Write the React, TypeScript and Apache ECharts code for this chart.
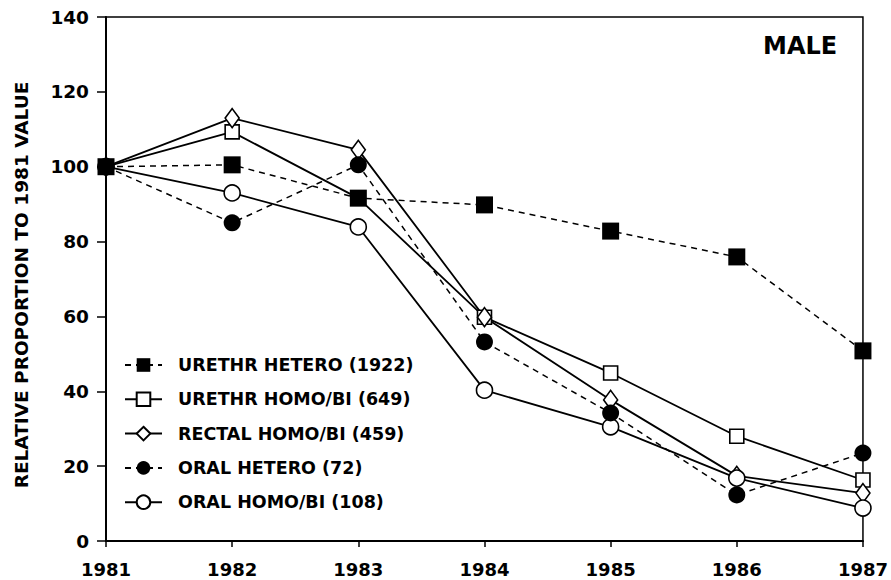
import React, { useEffect, useRef } from "react";
import * as echarts from "echarts";

const years = ["1981", "1982", "1983", "1984", "1985", "1986", "1987"];
const urethrHetero = [100, 100.5, 91.6, 89.8, 82.8, 75.9, 50.8];
const urethrHomo = [100, 109.3, 91.6, 59.8, 44.9, 28, 16.3];
const rectalHomo = [100, 113, 104.5, 59.8, 37.7, 17.4, 12.8];
const oralHetero = [100, 85, 100.5, 53.2, 34.2, 12.3, 23.5];
const oralHomo = [100, 93, 83.9, 40.3, 30.5, 16.8, 8.8];
const seriesNames = [
  "URETHR HETERO (1922)",
  "URETHR HOMO/BI (649)",
  "RECTAL HOMO/BI (459)",
  "ORAL HETERO (72)",
  "ORAL HOMO/BI (108)",
];
const yTicks = [0, 20, 40, 60, 80, 100, 120, 140];
const yTitle = "RELATIVE PROPORTION TO 1981 VALUE";
const panelLabel = "MALE";

const FONT = "DejaVu Sans";

export default function App() {
  const ref = useRef<HTMLDivElement>(null);
  useEffect(() => {
    if (!ref.current) return;
    const chart = echarts.init(ref.current, null, { renderer: "svg" });
    const mk = (
      name: string,
      data: number[],
      symbol: string,
      size: number | number[],
      filled: boolean,
      dashed: boolean,
      z: number
    ) => ({
      name,
      type: "line",
      data,
      symbol,
      symbolSize: size,
      showAllSymbol: true,
      z,
      lineStyle: {
        color: "#000",
        width: dashed ? 1.5 : 1.8,
        type: dashed ? [6, 5] : "solid",
      },
      itemStyle: {
        color: filled ? "#000" : "#fff",
        borderColor: "#000",
        borderWidth: filled ? 0 : 1.6,
      },
      emphasis: { disabled: true },
    });
    const diamond = "path://M0,-10 L7,0 L0,10 L-7,0 Z";
    chart.setOption({
      animation: false,
      backgroundColor: "#fff",
      grid: {
        left: 106,
        right: 27,
        top: 17,
        bottom: 39,
        show: true,
        borderColor: "#000",
        borderWidth: 1.5,
        backgroundColor: "transparent",
      },
      legend: {
        orient: "vertical",
        left: 119,
        top: 351,
        itemWidth: 37,
        itemHeight: 17,
        itemGap: 16.3,
        data: seriesNames,
        textStyle: {
          fontFamily: FONT,
          fontWeight: "bold",
          fontSize: 17.5,
          color: "#000",
          padding: [0, 0, 0, 11],
        },
        selectedMode: false,
      },
      graphic: [
        {
          type: "text",
          left: 763,
          top: 34,
          style: {
            text: panelLabel,
            fontFamily: FONT,
            fontWeight: "bold",
            fontSize: 24,
            fill: "#000",
          },
        },
        {
          type: "text",
          x: 21,
          y: 285,
          rotation: Math.PI / 2,
          style: {
            text: yTitle,
            fontFamily: FONT,
            fontWeight: "bold",
            fontSize: 18.5,
            fill: "#000",
            align: "center",
            verticalAlign: "middle",
          },
        },
      ],
      xAxis: {
        type: "category",
        data: years,
        boundaryGap: false,
        axisLine: { lineStyle: { color: "#000", width: 2 } },
        axisTick: { show: true, length: 6, lineStyle: { color: "#000", width: 1.5 } },
        axisLabel: {
          fontFamily: FONT,
          fontWeight: "bold",
          fontSize: 18,
          color: "#000",
          margin: 19,
        },
        splitLine: { show: false },
      },
      yAxis: {
        type: "value",
        min: yTicks[0],
        max: yTicks[yTicks.length - 1],
        interval: 20,
        axisLine: { show: true, lineStyle: { color: "#000", width: 2 } },
        axisTick: { show: true, length: 9, lineStyle: { color: "#000", width: 1.5 } },
        axisLabel: {
          fontFamily: FONT,
          fontWeight: "bold",
          fontSize: 18.5,
          color: "#000",
          margin: 17,
        },
        splitLine: { show: false },
      },
      series: [
        mk(seriesNames[0], urethrHetero, "rect", 17, true, true, 5),
        mk(seriesNames[1], urethrHomo, "rect", 14, false, false, 2),
        mk(seriesNames[2], rectalHomo, diamond, [14, 19], false, false, 2),
        mk(seriesNames[3], oralHetero, "circle", 17, true, true, 4),
        mk(seriesNames[4], oralHomo, "circle", 16, false, false, 3),
      ],
    });
    return () => chart.dispose();
  }, []);
  return (
    <div
      ref={ref}
      style={{ position: "fixed", left: 0, top: 0, width: 891, height: 580, background: "#fff" }}
    />
  );
}
